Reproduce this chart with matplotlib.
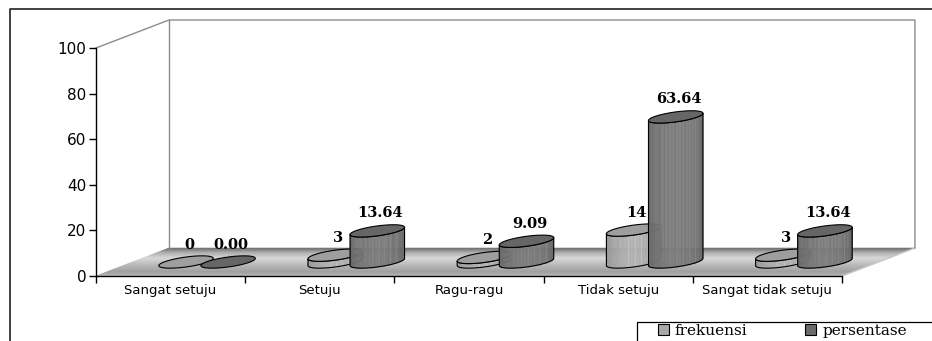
import numpy as np
import matplotlib.pyplot as plt
from matplotlib.patches import Patch, Rectangle
from matplotlib.lines import Line2D

kategori = ['Sangat setuju', 'Setuju', 'Ragu-ragu', 'Tidak setuju', 'Sangat tidak setuju']
frekuensi = [0, 3, 2, 14, 3]
persentase = [0.00, 13.64, 9.09, 63.64, 13.64]
seri = ['frekuensi', 'persentase']

# kedalaman 3D semu (dalam satuan data: kategori, nilai)
DX, DY = 0.489, 12.28
Z_MID = 0.5
RX = 0.1475     # jari-jari silinder arah x
RZ = 0.22       # jari-jari silinder arah kedalaman (fraksi kedalaman)
GESER = 0.141   # jarak silinder dari tengah kategori

warna_badan = [0.66, 0.46]
warna_atas = [0.62, 0.40]


def abu(v):
    v = min(max(v, 0), 1)
    return (v, v, v)


def silinder(ax, xc, y0, h, g_badan, g_atas):
    t0 = np.arctan2(RZ * DX, RX)
    t = np.linspace(t0 - np.pi, t0, 60)
    xs = xc + RX * np.cos(t) + RZ * DX * np.sin(t)
    yb = y0 + RZ * DY * np.sin(t)
    yt = yb + h
    if h > 0:
        u = (xs - xs.min()) / (xs.max() - xs.min())
        for i in range(len(t) - 1):
            um = 0.5 * (u[i] + u[i + 1])
            c = abu(g_badan * (0.9 + 0.16 * np.sin(np.pi * um)))
            ax.fill([xs[i], xs[i + 1], xs[i + 1], xs[i]],
                    [yb[i], yb[i + 1], yt[i + 1], yt[i]],
                    fc=c, ec=c, lw=0.3, clip_on=False, zorder=3)
        # garis-garis tipis terang pada badan
        for uk in [0.4, 0.52, 0.63, 0.74, 0.85]:
            xk = np.interp(uk, u, xs)
            ybk = np.interp(uk, u, yb)
            ax.plot([xk, xk], [ybk, ybk + h], color=abu(g_badan * 1.15),
                    lw=0.6, clip_on=False, zorder=3)
        ax.fill(np.r_[xs, xs[::-1]], np.r_[yb, yt[::-1]], fill=False,
                ec='black', lw=0.8, clip_on=False, zorder=3)
    tt = np.linspace(0, 2 * np.pi, 90)
    ax.fill(xc + RX * np.cos(tt) + RZ * DX * np.sin(tt),
            y0 + h + RZ * DY * np.sin(tt),
            fc=abu(g_atas), ec='black', lw=0.8, clip_on=False, zorder=3)


fig = plt.figure(figsize=(9.32, 3.41), dpi=100)
fig.patch.set_facecolor('white')
ax = fig.add_axes([96 / 932, 65 / 341, 746 / 932, 228 / 341])
ax.set_facecolor('none')
ax.set_xlim(0, 5)
ax.set_ylim(0, 100)
n = len(kategori)

# lantai dengan gradasi
z_stop = [0, 0.15, 0.4, 0.65, 0.85, 1.0]
g_stop = [0.74, 0.62, 0.72, 0.85, 0.68, 0.43]
zz = np.linspace(0, 1, 41)
for z0, z1 in zip(zz[:-1], zz[1:]):
    c = abu(np.interp(0.5 * (z0 + z1), z_stop, g_stop))
    ax.fill([DX * z0, n + DX * z0, n + DX * z1, DX * z1],
            [DY * z0, DY * z0, DY * z1, DY * z1],
            fc=c, ec=c, lw=0.4, clip_on=False, zorder=1)
ax.plot([n, n + DX], [0, DY], color='#c8c8c8', lw=1, clip_on=False, zorder=1.5)

# dinding belakang
dinding = '#8c8c8c'
ax.plot([0, DX, n + DX, n + DX], [100, 100 + DY, 100 + DY, DY],
        color=dinding, lw=1, clip_on=False, zorder=1.5)
ax.plot([DX, DX], [DY, 100 + DY], color=dinding, lw=1, clip_on=False, zorder=1.5)

# silinder dan label nilai
y_dasar = DY * Z_MID
for i in range(n):
    xm = i + 0.5 + DX * Z_MID
    for j, (nilai, teks) in enumerate([(frekuensi[i], f'{frekuensi[i]}'),
                                      (persentase[i], f'{persentase[i]:.2f}')]):
        xc = xm - GESER if j == 0 else xm + GESER
        silinder(ax, xc, y_dasar, nilai, warna_badan[j], warna_atas[j])
        ax.text(xc + 0.02, y_dasar + nilai + 4.6, teks, ha='center', va='bottom',
                family='DejaVu Serif', fontweight='bold', fontsize=10.5,
                zorder=6, clip_on=False)

# sumbu
for s in ['top', 'right']:
    ax.spines[s].set_visible(False)
for s in ['left', 'bottom']:
    ax.spines[s].set_color('black')
    ax.spines[s].set_linewidth(1)
ax.set_yticks(np.arange(0, 101, 20))
ax.tick_params(axis='y', direction='out', length=5, width=1, pad=2, labelsize=11)
ax.set_xticks(np.arange(0, n + 1))
ax.set_xticklabels([])
ax.set_xticks(np.arange(n) + 0.5, minor=True)
ax.set_xticklabels(kategori, minor=True, fontsize=9.5)
ax.tick_params(axis='x', which='major', direction='out', length=5, width=1)
ax.tick_params(axis='x', which='minor', length=0, pad=6)

# bingkai luar
fig.add_artist(Line2D([10 / 932, 10 / 932, 1], [0, 1 - 9 / 341, 1 - 9 / 341],
                      transform=fig.transFigure, color='#333333', lw=1.3))

# legenda
fig.add_artist(Rectangle((637 / 932, -0.1), 0.5, 0.1 + (341 - 322) / 341,
                         transform=fig.transFigure, fill=False, ec='black', lw=0.9))
handles = [Patch(fc=abu(warna_badan[0]), ec='black', lw=0.8),
           Patch(fc=abu(warna_atas[1] + 0.02), ec='black', lw=0.8)]
fig.legend(handles, seri, loc='upper left', bbox_to_anchor=(658 / 932, 1 - 324 / 341),
           ncol=2, frameon=False, borderpad=0, borderaxespad=0, handlelength=0.7,
           handleheight=0.7, handletextpad=0.4, columnspacing=3.8,
           prop={'family': 'DejaVu Serif', 'size': 11})

fig.savefig('out.png', dpi=100)
